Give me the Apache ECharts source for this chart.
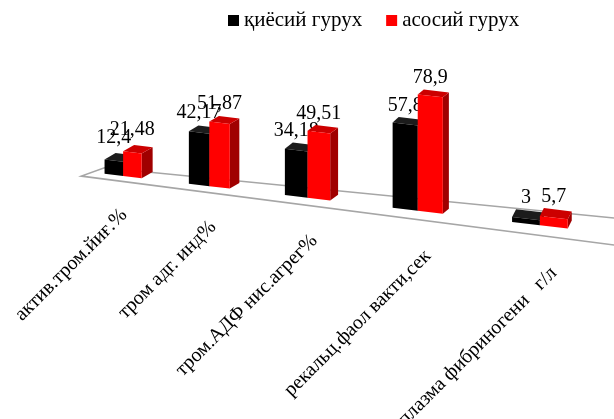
<!DOCTYPE html>
<html><head><meta charset="utf-8">
<script src="https://cdn.jsdelivr.net/npm/echarts@6/dist/echarts.min.js"></script>
<style>html,body{margin:0;padding:0;background:#fff}#c{width:614px;height:419px}</style>
</head><body><div id="c"></div>
<script>
const categories = ['актив.тром.йиғ.%', 'тром адг. инд%', 'тром.АДФ нис.агрег%', 'рекальц.фаол вакти,сек', 'плазма фибриногени   г/л'];
const controlGroup = [12.4, 42.17, 34.18, 57.8, 3];
const mainGroup = [21.48, 51.87, 49.51, 78.9, 5.7];
const seriesNames = ['қиёсий гурух', 'асосий гурух'];

const FONT = '"Liberation Serif","Times New Roman","DejaVu Serif",serif';
const SLOPE = 0.118;   // tilt of the floor
const WARP = 0.23;     // perspective spacing

function geom(api, i) {
  const c0 = api.coord([0, 0]);
  const c4 = api.coord([categories.length - 1, 0]);
  const ci = api.coord([i, 0]);
  const span = c4[0] - c0[0];
  const u = (ci[0] - c0[0]) / span;
  const uw = u * (1 - WARP * (1 - u));
  const xc = c0[0] + uw * span;
  const band = api.size([1, 0])[0];
  return {
    c0: c0, xc: xc, uw: uw, band: band,
    base: function (x) { return c0[1] + SLOPE * (x - c0[0]); },
    p: 1 + 0.5 * uw, ph: 1 + 0.4 * uw
  };
}

function fmt(v) { return String(v).replace('.', ','); }

function barRender(seriesIdx, colors) {
  return function (params, api) {
    const i = api.value(0);
    const v = api.value(1);
    const g = geom(api, i);
    const bw = g.band * 0.178 * g.p;
    const x0 = seriesIdx === 0 ? g.xc - bw : g.xc;
    const x1 = x0 + bw;
    const h = api.size([0, v])[1] * g.ph;
    const yb0 = g.base(x0), yb1 = g.base(x1);
    const t0 = yb0 - h, t1 = yb1 - h;
    const dx = 11 - 7 * g.uw;
    const dy = -Math.max(4, 5 + 0.025 * (t0 - 100));
    const lift = 3 + 3 * Math.max(0, 1 - 4 * g.uw);
    const children = [
      { type: 'polygon', shape: { points: [[x1, yb1], [x1 + dx, yb1 + dy], [x1 + dx, t1 + dy], [x1, t1]] }, style: { fill: colors.side } },
      { type: 'polygon', shape: { points: [[x0, t0], [x1, t1], [x1 + dx, t1 + dy], [x0 + dx, t0 + dy]] }, style: { fill: colors.top } },
      { type: 'polygon', shape: { points: [[x0, yb0], [x1, yb1], [x1, t1], [x0, t0]] }, style: { fill: colors.front } },
      { type: 'text', x: (x0 + x1) / 2, y: (t0 + t1) / 2 + dy - lift,
        style: { text: fmt(v), font: '20px ' + FONT, fill: '#000', align: 'center', verticalAlign: 'bottom', textAlign: 'center', textVerticalAlign: 'bottom' } }
    ];
    return { type: 'group', children: children };
  };
}

function floorRender(params, api) {
  const g = geom(api, 0);
  const cs = params.coordSys;
  const leftX = g.c0[0] - g.band * 0.4;
  const rightX = cs.x + cs.width + 40;
  const fl = [leftX, g.base(leftX) + 5];
  const fr = [rightX, g.base(rightX) + 5 + 0.0113 * (rightX - leftX)];
  const bl = [leftX + 23, g.base(leftX + 23) - 6];
  const br = [rightX, g.base(rightX) - 6 - 0.0196 * (rightX - leftX - 23)];
  return {
    type: 'polygon',
    shape: { points: [fl, fr, br, bl] },
    style: { fill: '#fff', stroke: '#a6a6a6', lineWidth: 1.6 }
  };
}

function labelRender(params, api) {
  const i = api.value(0);
  const g = geom(api, i);
  const ax = g.xc + 1 + 13 * g.uw;
  const ay = g.base(g.xc) + 36 + 9 * g.uw;
  return {
    type: 'text', x: ax, y: ay, rotation: Math.PI / 4,
    style: { text: categories[i], font: '20px ' + FONT, fill: '#000', align: 'right', verticalAlign: 'middle', textAlign: 'right', textVerticalAlign: 'middle' }
  };
}

const chart = echarts.init(document.getElementById('c'));
chart.setOption({
  animation: false,
  backgroundColor: '#fff',
  legend: {
    data: seriesNames, left: 228, top: 10, padding: 0, icon: 'rect', itemWidth: 11, itemHeight: 11, itemGap: 24,
    selectedMode: false,
    textStyle: { fontFamily: FONT, fontSize: 21, color: '#000' }
  },
  grid: { left: 71, width: 521, top: 61, height: 115 },
  xAxis: { type: 'category', data: categories, show: false },
  yAxis: { type: 'value', min: 0, max: 100, show: false },
  series: [
    { type: 'custom', name: 'floor', silent: true, renderItem: floorRender, data: [[0, 0]], z: 1 },
    { type: 'custom', name: seriesNames[0], renderItem: barRender(0, { front: '#000', top: '#1c1c1c', side: '#000' }),
      itemStyle: { color: '#000' }, data: controlGroup.map((v, i) => [i, v]), z: 2 },
    { type: 'custom', name: seriesNames[1], renderItem: barRender(1, { front: '#ff0000', top: '#cc0000', side: '#a00000' }),
      itemStyle: { color: '#ff0000' }, data: mainGroup.map((v, i) => [i, v]), z: 3 },
    { type: 'custom', name: 'labels', silent: true, renderItem: labelRender, data: categories.map((c, i) => [i, 0]), z: 4 }
  ]
});
</script></body></html>
